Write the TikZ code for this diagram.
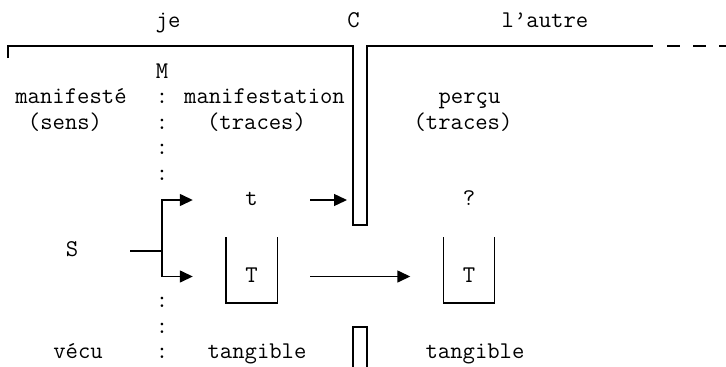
\documentclass[tikz,border=0pt]{standalone}
\usepackage{fontspec}
\usepackage{tikz}
\usetikzlibrary{arrows.meta, positioning, calc}
\tikzset{
  lbl/.style={font=\ttfamily\fontsize{24}{25}\selectfont, inner sep=0pt, anchor=base},
  cell/.style={lbl, text height=11pt, text depth=0pt, minimum width=51pt},
  wall/.style={line width=1.4pt},
  arrow/.style={-{Triangle[length=13pt, width=12pt]}, line width=1.4pt},
}

\begin{document}
\begin{tikzpicture}[x=1pt, y=-1pt]
  \useasboundingbox (0,0) rectangle (726,367);

  % heads
  \node[lbl] (je) at (168,27) {je};
  \node[lbl] (C) at (353.5,27) {C};
  \node[lbl] (autre) at (545,27) {l’autre};

  % je side
  \node[lbl] (M) at (162,78) {M};
  \node[lbl] (manif) at (71,103.5) {manifesté};
  \node[lbl] (sens) at (65,129) {(sens)};
  \node[cell] (S) at (72,256.5) {S};
  \node[lbl] (vecu) at (78,358.5) {vécu};
  \foreach \y [count=\i] in {103.5,129,154.5,180,307.5,333,358.5}
    \node[lbl] (colon\i) at (162,\y) {:};

  \node[lbl] (manifn) at (264.5,103.5) {manifestation};
  \node[lbl] (tracesL) at (256.5,129) {(traces)};
  \node[cell] (t) at (251.5,205.5) {t};
  \node[cell] (TL) at (251.5,282) {T};
  \node[lbl] (tangL) at (257,358.5) {tangible};

  % l'autre side
  \node[lbl] (percu) at (469.5,103.5) {perçu};
  \node[lbl] (tracesR) at (463,129) {(traces)};
  \node[cell] (q) at (469,205.5) {?};
  \node[cell] (TR) at (469,282) {T};
  \node[lbl] (tangR) at (475,358.5) {tangible};

  % frame and wall C
  \coordinate (wallL) at (353,46);
  \draw[wall] (8,58) |- (wallL) |- (367,225) |- (653,46);
  \draw[wall, dash pattern=on 13pt off 13pt] (667,46) -- (726,46);
  \draw[wall] (353,367) |- (367,327) -- (367,367);

  % cups
  \foreach \b in {TL,TR}
    \draw[wall] ([yshift=39.5pt]\b.west) -- ([yshift=-26.5pt]\b.west)
      -- ([yshift=-26.5pt]\b.east) -- ([yshift=39.5pt]\b.east);

  % arrows
  \draw[wall] ([xshift=32.5pt]S.east) -- (S.east -| M);
  \draw[arrow] (S.east -| M) |- ([xshift=-33pt]t.west);
  \draw[arrow] (S.east -| M) |- ([xshift=-33pt]TL.west);
  \draw[arrow, shorten >=6pt] ([xshift=33pt]t.east) -- (t.east -| wallL);
  \draw[arrow] ([xshift=33pt]TL.east) -- ([xshift=-33pt]TR.west);

\end{tikzpicture}
\end{document}
